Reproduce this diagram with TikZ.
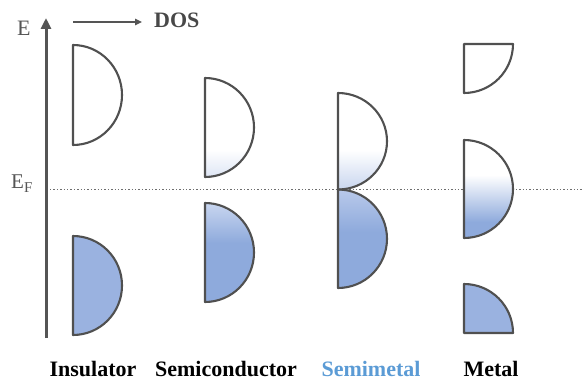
\documentclass[tikz,border=0pt]{standalone}
\usepackage{fontspec}
\setmainfont{Liberation Serif}
\usetikzlibrary{arrows.meta}
\definecolor{axisgray}{HTML}{555555}
\definecolor{outl}{HTML}{505050}
\definecolor{bdeep}{HTML}{8EAADC}
\definecolor{bsolid}{HTML}{9AB2E0}
\definecolor{scup}{HTML}{DCE4F4}
\definecolor{sclo}{HTML}{CAD7F0}
\definecolor{smup}{HTML}{C9D6EF}
\definecolor{smlo}{HTML}{B8C9EA}
\definecolor{semiblue}{HTML}{5B9BD5}
\begin{document}
\begin{tikzpicture}[x=1pt,y=1pt,
  band/.style={draw=outl,line width=2.1pt,line join=round},
  lbl/.style={font=\fontsize{22}{24}\selectfont\bfseries,anchor=base,inner sep=0pt},
  efdots/.style={draw=axisgray!85,line width=1.6pt,dash pattern=on 1.4pt off 2pt}]
\useasboundingbox (0,0) rectangle (584,381);
% axes
\coordinate (ybot) at (46,43);
\coordinate (ytop) at (46,363);
\draw[axisgray,line width=3pt,-{Triangle[width=10pt,length=11pt]}] (ybot) -- (ytop);
\node[text=axisgray,font=\fontsize{22}{24}\selectfont,anchor=base west,inner sep=0pt] (E) at (17,345) {E};
\coordinate (dosa) at (73,359);
\coordinate (dosb) at (142,359);
\draw[axisgray,line width=1.3pt,-{Triangle[width=6.5pt,length=7pt]}] (dosa) -- (dosb);
\node[text=axisgray!85!black,font=\fontsize{22}{24}\selectfont\bfseries,anchor=base west,inner sep=0pt] (dos) at (154,353) {DOS};
% Fermi level
\node[text=axisgray,font=\fontsize{21}{24}\selectfont,anchor=base west,inner sep=0pt] (EF) at (11,193) {E\raisebox{-4pt}{\fontsize{15}{16}\selectfont F}};
\coordinate (efa) at (50,191.5);
\coordinate (efb) at (584,191.5);
\draw[efdots] (efa) -- (efb);
% Insulator
\draw[band,fill=white] (73,336) arc[start angle=90,end angle=-90,x radius=49,y radius=50] -- cycle;
\draw[band,fill=bsolid] (73,145) arc[start angle=90,end angle=-90,x radius=49,y radius=49.5] -- cycle;
% Semiconductor
\begin{scope}
\clip (205,303) arc[start angle=90,end angle=-90,x radius=49,y radius=49.5] -- cycle;
\shade[top color=white,bottom color=scup] (200,231) rectangle (260,203);
\end{scope}
\draw[band] (205,303) arc[start angle=90,end angle=-90,x radius=49,y radius=49.5] -- cycle;
\begin{scope}
\clip (205,178) arc[start angle=90,end angle=-90,x radius=49,y radius=49.5] -- cycle;
\shade[top color=sclo,bottom color=bdeep] (200,179) rectangle (260,138);
\fill[bdeep] (200,138.5) rectangle (260,75);
\end{scope}
\draw[band] (205,178) arc[start angle=90,end angle=-90,x radius=49,y radius=49.5] -- cycle;
% Semimetal
\begin{scope}
\clip (338,288) arc[start angle=90,end angle=-90,x radius=49,y radius=48.25] -- cycle;
\shade[top color=white,bottom color=smup] (333,231) rectangle (393,191.5);
\end{scope}
\begin{scope}
\clip (338,191.5) arc[start angle=90,end angle=-90,x radius=49,y radius=49.25] -- cycle;
\shade[top color=smlo,bottom color=bdeep] (333,191.5) rectangle (393,149);
\fill[bdeep] (333,149.5) rectangle (393,85);
\end{scope}
\draw[band] (338,288) arc[start angle=90,end angle=-90,x radius=49,y radius=48.25] -- cycle;
\draw[band] (338,191.5) arc[start angle=90,end angle=-90,x radius=49,y radius=49.25] -- cycle;
% Metal
\draw[band,fill=white] (464,337) -- (513,337) arc[start angle=0,end angle=-90,radius=49] -- cycle;
\begin{scope}
\clip (464,241) arc[start angle=90,end angle=-90,x radius=49,y radius=49] -- cycle;
\shade[top color=white,bottom color=bdeep] (459,206) rectangle (519,159);
\fill[bdeep] (459,159.5) rectangle (519,135);
\end{scope}
\draw[band] (464,241) arc[start angle=90,end angle=-90,x radius=49,y radius=49] -- cycle;
\draw[band,fill=bsolid] (464,97) arc[start angle=90,end angle=0,radius=49] -- (464,48) -- cycle;
% labels
\node[lbl] (ins) at (93,5) {Insulator};
\node[lbl] (semi) at (226,5) {Semiconductor};
\node[lbl,text=semiblue] (smet) at (371,5) {Semimetal};
\node[lbl] (met) at (491,5) {Metal};
\end{tikzpicture}
\end{document}
